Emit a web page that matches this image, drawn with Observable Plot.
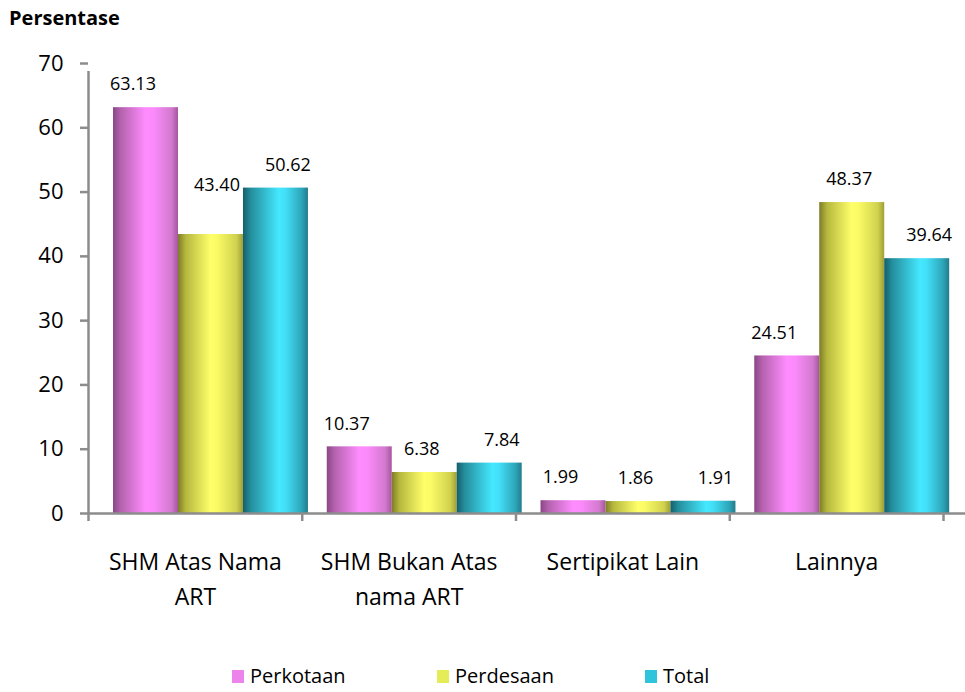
<!DOCTYPE html>
<html>
<head>
<meta charset="utf-8">
<script src="https://cdn.jsdelivr.net/npm/d3@7"></script>
<script src="https://cdn.jsdelivr.net/npm/@observablehq/plot@0.6"></script>
<style>
  body { margin: 0; background: #fff; font-family: "Open Sans", sans-serif; width: 965px; height: 692px; overflow: hidden; }
  #title { height: 36px; line-height: 36px; padding-left: 9px; font-weight: bold; font-size: 20px; color: #000; }
  #chart svg { display: block; }
  #legend { position: relative; height: 46px; font-size: 20px; color: #000; }
  .item { position: absolute; top: 19px; display: flex; align-items: center; height: 22px; line-height: 22px; }
  .sw { width: 12px; height: 13px; margin-right: 6px; }
</style>
</head>
<body>
<div id="title">Persentase</div>
<div id="chart"></div>
<div id="legend"></div>
<script>
const categories = ["SHM Atas Nama ART", "SHM Bukan Atas nama ART", "Sertipikat Lain", "Lainnya"];
const categoryLabels = ["SHM Atas Nama\nART", "SHM Bukan Atas\nnama ART", "Sertipikat Lain", "Lainnya"];
const series = ["Perkotaan", "Perdesaan", "Total"];
const perkotaan = [63.13, 10.37, 1.99, 24.51];
const perdesaan = [43.40, 6.38, 1.86, 48.37];
const total = [50.62, 7.84, 1.91, 39.64];
const yTicks = [0, 10, 20, 30, 40, 50, 60, 70];

const legendColors = ["#ec84ec", "#e4ec58", "#30c4dc"];
const gradients = [
  [[0, "#8a4686"], [0.12, "#b462ae"], [0.5, "#ff8cff"], [0.62, "#fd8afd"], [0.9, "#d27ace"], [1, "#a6569e"]],
  [[0, "#7c7c28"], [0.12, "#b6b83e"], [0.5, "#ffff6a"], [0.6, "#fbfb66"], [0.9, "#d0d24e"], [1, "#9e9e38"]],
  [[0, "#155e6a"], [0.12, "#248e9c"], [0.55, "#44e8ff"], [0.65, "#42e0f8"], [0.9, "#2ea6ba"], [1, "#227c8a"]]
];
const gray = "#8c8c8c";

const valuesBySeries = [perkotaan, perdesaan, total];
const data = categories.flatMap((c, i) => series.map((s, j) => ({c, i, s, j, v: valuesBySeries[j][i]})));

// bar layout within a category unit (fraction of the category band)
const off = 0.117, bw = 0.304;
const x1 = d => d.i + off + d.j * bw;
const x2 = d => d.i + off + (d.j + 1) * bw;
const xc = d => d.i + off + (d.j + 0.5) * bw;
const labelDx = [-13, -3, 12];

const isSpecial = d => d.j === 1 && d.i === 0; // 43.40 label sits higher in the reference

const chart = Plot.plot({
  width: 965,
  height: 610,
  marginLeft: 88,
  marginRight: 22,
  marginTop: 27,
  marginBottom: 133,
  x: {domain: [0, categories.length]},
  y: {domain: [0, 70]},
  style: {fontFamily: "Open Sans", background: "white", overflow: "visible"},
  marks: [
    ...series.map((s, j) => Plot.rectY(data.filter(d => d.j === j), {
      x1, x2, y1: 0, y2: "v", fill: `url(#grad${j})`
    })),
    Plot.ruleY([0], {stroke: gray, strokeWidth: 2.5, insetRight: -22}),
    Plot.ruleX([0], {y1: 0, y2: 70, stroke: gray, strokeWidth: 2.5, insetBottom: -8}),
    Plot.axisY({ticks: yTicks, tickSize: 8, tickPadding: 17, stroke: gray, strokeWidth: 2.5, fill: "black", fontSize: 22, label: null, tickFormat: d => String(d)}),
    Plot.axisX({ticks: d3.range(categories.length + 1), tickSize: 8, tickFormat: () => "", stroke: gray, strokeWidth: 2.5, label: null}),
    Plot.text(categoryLabels, {x: (d, i) => i + 0.5, y: 0, dy: 32, lineAnchor: "top", fontSize: 23, lineHeight: 1.52, fill: "black"}),
    ...series.map((s, j) => Plot.text(data.filter(d => d.j === j && !isSpecial(d)), {
      x: xc, y: "v", dy: -23, dx: labelDx[j], text: d => d.v.toFixed(2), fontSize: 18, fill: "black"
    })),
    Plot.text(data.filter(isSpecial), {x: xc, y: "v", dy: -49, dx: 6, text: d => d.v.toFixed(2), fontSize: 18, fill: "black"})
  ]
});

const svg = d3.select(chart);
const defs = svg.insert("defs", ":first-child");
gradients.forEach((stops, j) => {
  const g = defs.append("linearGradient").attr("id", `grad${j}`).attr("x1", 0).attr("x2", 1).attr("y1", 0).attr("y2", 0);
  stops.forEach(([o, c]) => g.append("stop").attr("offset", o).attr("stop-color", c));
});
document.getElementById("chart").appendChild(chart);

const legend = document.getElementById("legend");
const legendLeft = [232, 437, 645];
series.forEach((s, j) => {
  const item = document.createElement("div");
  item.className = "item";
  item.style.left = legendLeft[j] + "px";
  const sw = document.createElement("div");
  sw.className = "sw";
  sw.style.background = legendColors[j];
  const t = document.createElement("span");
  t.textContent = s;
  item.appendChild(sw);
  item.appendChild(t);
  legend.appendChild(item);
});
</script>
</body>
</html>
